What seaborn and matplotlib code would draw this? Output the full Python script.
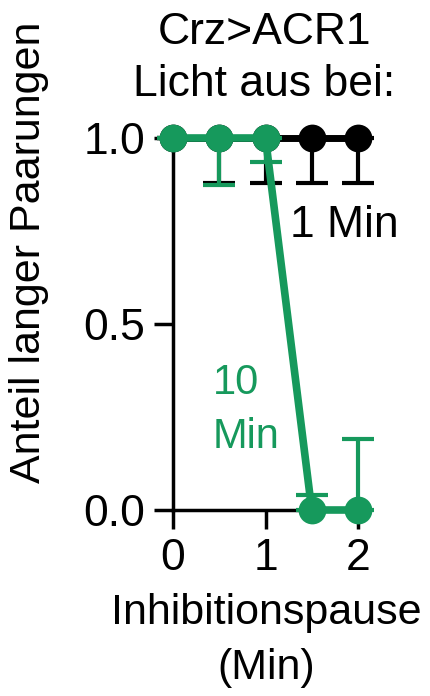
import matplotlib
matplotlib.use("Agg")
import matplotlib.pyplot as plt
import seaborn as sns
import pandas as pd
import numpy as np

# Data
pause_min = [0, 0.5, 1, 1.5, 2]
black_1min = [1.0, 1.0, 1.0, 1.0, 1.0]
black_err_low = [0.0, 0.12, 0.12, 0.12, 0.12]
black_err_up = [0.0, 0.0, 0.0, 0.0, 0.0]
green_10min = [1.0, 1.0, 1.0, 0.0, 0.0]
green_err_low = [0.0, 0.125, 0.065, 0.0, 0.0]
green_err_up = [0.0, 0.0, 0.0, 0.04, 0.19]

title_text = "Crz>ACR1\nLicht aus bei:"
ylabel_text = "Anteil langer Paarungen"
xlabel_text = "Inhibitionspause\n(Min)"
label_1 = "1 Min"
label_10 = "10\nMin"

GREEN = "#16995C"
BLACK = "#000000"

sns.set_style("ticks")
plt.rcParams['font.family'] = ['Liberation Sans', 'DejaVu Sans']
plt.rcParams.update({
    'text.color': BLACK, 'axes.labelcolor': BLACK, 'axes.edgecolor': BLACK,
    'xtick.color': BLACK, 'ytick.color': BLACK,
})

df = pd.DataFrame({
    "x": pause_min * 2,
    "y": black_1min + green_10min,
    "group": ["1 Min"] * 5 + ["10 Min"] * 5,
})

fig = plt.figure(figsize=(4.3, 6.96), dpi=100)
ax = fig.add_axes([173/430, 1-510/696, (358-173)/430, (510-138)/696])

# black series
ax.errorbar(pause_min, black_1min, yerr=[black_err_low, black_err_up], fmt='none',
            ecolor=BLACK, elinewidth=3, capsize=11.5, capthick=3, clip_on=False, zorder=2)
sns.lineplot(data=df[df.group == "1 Min"], x="x", y="y", color=BLACK, lw=5,
             marker='o', markersize=20, markeredgewidth=0, ax=ax, clip_on=False,
             zorder=3, legend=False)
# green series
sns.lineplot(data=df[df.group == "10 Min"], x="x", y="y", color=GREEN, lw=5.5,
             marker=None, ax=ax, clip_on=False, zorder=4, legend=False)
ax.errorbar(pause_min, green_10min, yerr=[green_err_low, green_err_up], fmt='none',
            ecolor=GREEN, elinewidth=3, capsize=11.5, capthick=3, clip_on=False, zorder=5)
sns.scatterplot(data=df[df.group == "10 Min"], x="x", y="y", color=GREEN, s=400,
                linewidth=0, ax=ax, clip_on=False, zorder=6, legend=False)

ax.set_xlim(0, 2)
ax.set_ylim(0, 1)
ax.set_xticks([0, 1, 2])
ax.set_xticklabels(["0", "1", "2"])
ax.set_yticks([0, 0.5, 1.0])
ax.set_yticklabels(["0.0", "0.5", "1.0"])
ax.set_xlabel("")
ax.set_ylabel("")
for s in ["top", "right"]:
    ax.spines[s].set_visible(False)
for s in ["left", "bottom"]:
    ax.spines[s].set_linewidth(2.5)
    ax.spines[s].set_color(BLACK)
ax.tick_params(axis='both', length=14, width=2.5, labelsize=32, pad=6, color=BLACK,
               labelcolor=BLACK)
ax.set_facecolor('none')

ax.text(1.85, 0.766, label_1, color=BLACK, fontsize=32, ha='center', va='center')
ax.text(0.43, 0.27, label_10, color=GREEN, fontsize=30, ha='left', va='center',
        linespacing=1.45)

fig.text(264/430, 1-12/696, title_text, ha='center', va='top', fontsize=32,
         linespacing=1.35, color=BLACK)
fig.text(29/430, 1-252/696, ylabel_text, ha='center', va='center', rotation=90,
         fontsize=31, color=BLACK)
fig.text(266/430, 1-593/696, xlabel_text, ha='center', va='top', fontsize=31,
         linespacing=1.5, color=BLACK)

fig.savefig("out.png", dpi=100)
